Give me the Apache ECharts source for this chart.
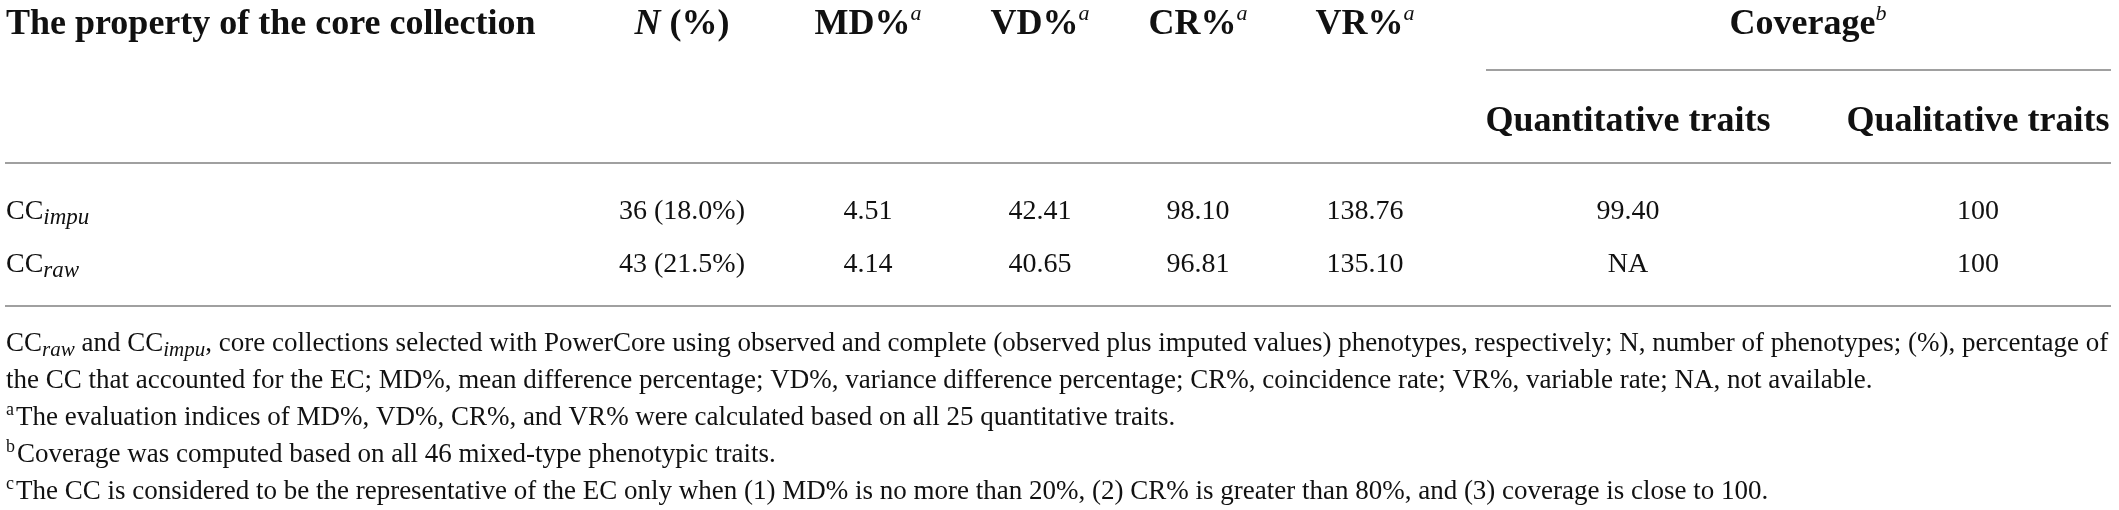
<!DOCTYPE html>
<html>
<head>
<meta charset="utf-8">
<title>Core collection table</title>
<script src="https://cdn.jsdelivr.net/npm/echarts@6/dist/echarts.min.js"></script>
<style>
  html, body { margin: 0; padding: 0; background: #fff; }
  #main { width: 2119px; height: 510px; }
</style>
</head>
<body>
<div id="main"></div>
<script>
// table data
const rowNames = [["CC", "impu"], ["CC", "raw"]];
const nPercent = ["36 (18.0%)", "43 (21.5%)"];
const mdValues = [4.51, 4.14];
const vdValues = [42.41, 40.65];
const crValues = [98.10, 96.81];
const vrValues = [138.76, 135.10];
const quantCoverage = ["99.40", "NA"];
const qualCoverage = ["100", "100"];

const firstHeader = "The property of the core collection";
const metricHeaders = ["MD%", "VD%", "CR%", "VR%"];
const coverageHeader = "Coverage";
const coverageSubHeaders = ["Quantitative traits", "Qualitative traits"];

const footnotes = [
  "{f|CC}{fsub|raw}{f| and CC}{fsub|impu}{f|, core collections selected with PowerCore using observed and complete (observed plus imputed values) phenotypes, respectively; N, number of phenotypes; (%), percentage of}",
  "{f|the CC that accounted for the EC; MD%, mean difference percentage; VD%, variance difference percentage; CR%, coincidence rate; VR%, variable rate; NA, not available.}",
  "{fsup|a}{f|The evaluation indices of MD%, VD%, CR%, and VR% were calculated based on all 25 quantitative traits.}",
  "{fsup|b}{f|Coverage was computed based on all 46 mixed-type phenotypic traits.}",
  "{fsup|c}{f|The CC is considered to be the representative of the EC only when (1) MD% is no more than 20%, (2) CR% is greater than 80%, and (3) coverage is close to 100.}"
];

const chart = echarts.init(document.getElementById("main"));

const FONT = "'Liberation Serif', 'DejaVu Serif', serif";
const rich = {
  h: { fontFamily: FONT, fontSize: 36, fontWeight: "bold", lineHeight: 44, fill: "#111" },
  hi: { fontFamily: FONT, fontSize: 36, fontWeight: "bold", fontStyle: "italic", lineHeight: 44, fill: "#111" },
  hsup: { fontFamily: FONT, fontSize: 22, fontStyle: "italic", lineHeight: 24, verticalAlign: "top", fill: "#111" },
  n: { fontFamily: FONT, fontSize: 28, lineHeight: 34, fill: "#111" },
  f: { fontFamily: FONT, fontSize: 27, lineHeight: 34, fill: "#111" },
  sub: { fontFamily: FONT, fontSize: 23, fontStyle: "italic", lineHeight: 27, verticalAlign: "bottom", fill: "#111" },
  fsub: { fontFamily: FONT, fontSize: 21, fontStyle: "italic", lineHeight: 25, verticalAlign: "bottom", fill: "#111" },
  fsup: { fontFamily: FONT, fontSize: 18, lineHeight: 20, verticalAlign: "top", padding: [0, 2, 0, 0], fill: "#111" }
};

// column layout
const leftX = 6;
const colX = [682, 868, 1040, 1198, 1365, 1628, 1978];
const headY = 25, subHeadY = 122, rowY = [212, 265];
const footY = [344, 381, 418, 455, 492];

function txt(x, y, text, align) {
  return {
    type: "text",
    x: x, y: y,
    style: { text: text, rich: rich, align: align || "center", verticalAlign: "middle" }
  };
}
function hline(x1, x2, y) {
  return {
    type: "line",
    shape: { x1: x1, y1: y, x2: x2, y2: y },
    style: { stroke: "#a0a0a0", lineWidth: 2 }
  };
}

const graphic = [];
graphic.push(txt(leftX, headY, "{h|" + firstHeader + "}", "left"));
graphic.push(txt(colX[0], headY, "{hi|N}{h| (%)}"));
metricHeaders.forEach((m, i) => {
  graphic.push(txt(colX[i + 1], headY, "{h|" + m + "}{hsup|a}"));
});
graphic.push(txt((colX[5] + colX[6]) / 2 + 5, headY, "{h|" + coverageHeader + "}{hsup|b}"));
graphic.push(hline(1486, 2111, 70));
coverageSubHeaders.forEach((s, i) => {
  graphic.push(txt(colX[5 + i], subHeadY, "{h|" + s + "}"));
});
graphic.push(hline(5, 2111, 163));

rowNames.forEach((r, i) => {
  const y = rowY[i];
  graphic.push(txt(leftX, y, "{n|" + r[0] + "}{sub|" + r[1] + "}", "left"));
  const cells = [
    nPercent[i],
    mdValues[i].toFixed(2),
    vdValues[i].toFixed(2),
    crValues[i].toFixed(2),
    vrValues[i].toFixed(2),
    quantCoverage[i],
    qualCoverage[i]
  ];
  cells.forEach((c, j) => graphic.push(txt(colX[j], y, "{n|" + c + "}")));
});
graphic.push(hline(5, 2111, 306));

footnotes.forEach((f, i) => graphic.push(txt(leftX, footY[i], f, "left")));

chart.setOption({
  backgroundColor: "#fff",
  animation: false,
  graphic: graphic
});
</script>
</body>
</html>
